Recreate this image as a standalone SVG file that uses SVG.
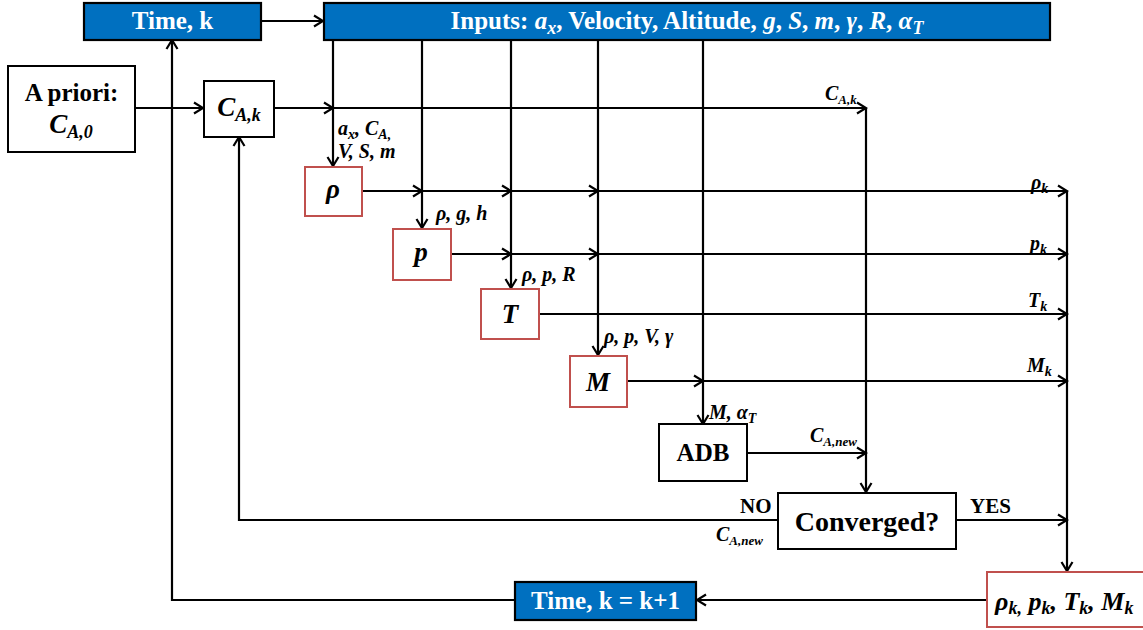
<svg xmlns="http://www.w3.org/2000/svg" width="1143" height="630" viewBox="0 0 1143 630">
<defs>
<marker id="ah" markerUnits="userSpaceOnUse" markerWidth="14" markerHeight="14" viewBox="0 0 14 14" refX="12" refY="7" orient="auto">
<path d="M3,1.5 L12,7 L3,12.5" fill="none" stroke="#000" stroke-width="2.2"/>
</marker>
</defs>
<style>
.blue{fill:#0070C0;stroke:#000;stroke-width:2.2}
.bk{fill:#fff;stroke:#000;stroke-width:2}
.rd{fill:#fff;stroke:#C0504D;stroke-width:2}
text{font-family:"Liberation Serif","Times New Roman","DejaVu Serif",serif;font-weight:bold}
.w{fill:#fff;font-size:25px}
.t{fill:#000;font-size:25px}
.ti{fill:#000;font-style:italic;font-size:27px}
.lb{fill:#000;font-style:italic;font-size:20px}
.lt{fill:#000;font-size:21px}
.c line,.c path{stroke:#000;stroke-width:2.2;fill:none}
.a{marker-end:url(#ah)}
</style>
<g class="c" id="connectors">
<line class="a" x1="261" y1="21" x2="323" y2="21"/>
<line class="a" x1="135" y1="108" x2="203" y2="108"/>
<line class="a" x1="274" y1="108" x2="333" y2="108"/>
<line class="a" x1="333" y1="108" x2="866" y2="108"/>
<line x1="866" y1="108" x2="866" y2="440"/>
<line class="a" x1="866" y1="440" x2="866" y2="492"/>
<line class="a" x1="333" y1="40" x2="333" y2="166"/>
<line class="a" x1="422" y1="40" x2="422" y2="228"/>
<line class="a" x1="511" y1="40" x2="511" y2="288"/>
<line class="a" x1="598" y1="40" x2="598" y2="355"/>
<line class="a" x1="703" y1="40" x2="703" y2="424"/>
<line class="a" x1="362" y1="191" x2="422" y2="191"/>
<line class="a" x1="422" y1="191" x2="511" y2="191"/>
<line class="a" x1="511" y1="191" x2="598" y2="191"/>
<line class="a" x1="598" y1="191" x2="1067" y2="191"/>
<line class="a" x1="451" y1="254" x2="511" y2="254"/>
<line class="a" x1="511" y1="254" x2="598" y2="254"/>
<line class="a" x1="598" y1="254" x2="1067" y2="254"/>
<line class="a" x1="539" y1="314" x2="1067" y2="314"/>
<line class="a" x1="627" y1="381" x2="703" y2="381"/>
<line class="a" x1="703" y1="381" x2="1067" y2="381"/>
<line class="a" x1="747" y1="453" x2="866" y2="453"/>
<line class="a" x1="956" y1="520" x2="1067" y2="520"/>
<line x1="1067" y1="191" x2="1067" y2="520"/>
<line class="a" x1="1067" y1="520" x2="1067" y2="571"/>
<line class="a" x1="987" y1="600" x2="697" y2="600"/>
<path d="M778,520 H239 V300"/>
<line class="a" x1="239" y1="300" x2="239" y2="137"/>
<path d="M515,600 H172 V300"/>
<line class="a" x1="172" y1="300" x2="172" y2="40"/>
</g>
<g id="time">
<rect class="blue" x="84" y="3" width="177" height="37"/>
<text class="w" x="172.5" y="29" text-anchor="middle">Time, k</text>
</g>
<g id="inputs">
<rect class="blue" x="324" y="3" width="726" height="37"/>
<text class="w" x="687" y="29" text-anchor="middle">Inputs: <tspan font-style="italic">a</tspan><tspan font-style="italic" font-size="18" dy="5">x</tspan><tspan dy="-5">, Velocity, Altitude, </tspan><tspan font-style="italic">g</tspan>, <tspan font-style="italic">S</tspan>, <tspan font-style="italic">m</tspan>, <tspan font-style="italic">γ</tspan>, <tspan font-style="italic">R</tspan>, <tspan font-style="italic">α</tspan><tspan font-style="italic" font-size="18" dy="5">T</tspan></text>
</g>
<g id="apriori">
<rect class="bk" x="8" y="66" width="127" height="86"/>
<text class="t" x="71.5" y="101" text-anchor="middle">A priori:</text>
<text class="ti" x="71" y="133" text-anchor="middle">C<tspan font-size="18" dy="5">A,0</tspan></text>
</g>
<g id="cak">
<rect class="bk" x="204" y="81" width="70" height="56"/>
<text class="ti" x="239" y="116" text-anchor="middle">C<tspan font-size="18" dy="5">A,k</tspan></text>
</g>
<g id="rho">
<rect class="rd" x="305" y="167" width="57" height="49"/>
<text class="ti" x="333" y="198" text-anchor="middle">ρ</text>
</g>
<g id="p">
<rect class="rd" x="393" y="229" width="58" height="51"/>
<text class="ti" x="421" y="261" text-anchor="middle">p</text>
</g>
<g id="T">
<rect class="rd" x="481" y="289" width="58" height="50"/>
<text class="ti" x="510" y="323" text-anchor="middle">T</text>
</g>
<g id="M">
<rect class="rd" x="570" y="356" width="57" height="51"/>
<text class="ti" x="598" y="391" text-anchor="middle">M</text>
</g>
<g id="adb">
<rect class="bk" x="659" y="424" width="88" height="57"/>
<text class="t" x="703" y="461" text-anchor="middle">ADB</text>
</g>
<g id="converged">
<rect class="bk" x="778" y="493" width="178" height="56"/>
<text class="t" x="867" y="531" text-anchor="middle" style="font-size:28px">Converged?</text>
</g>
<g id="result">
<rect class="rd" x="987" y="572" width="158" height="55"/>
<text class="ti" x="995" y="610" style="font-size:26px">ρ<tspan font-size="18" dy="4">k,</tspan><tspan dy="-4"> p</tspan><tspan font-size="18" dy="4">k</tspan><tspan dy="-4">, T</tspan><tspan font-size="18" dy="4">k</tspan><tspan dy="-4">, M</tspan><tspan font-size="18" dy="4">k</tspan></text>
</g>
<g id="timenext">
<rect class="blue" x="515" y="582" width="181" height="38"/>
<text class="w" x="605.5" y="609" text-anchor="middle">Time, k = k+1</text>
</g>
<g id="labels">
<text class="lb" x="338" y="135">a<tspan font-size="14" dy="4">x</tspan><tspan dy="-4">, C</tspan><tspan font-size="14" dy="4">A,</tspan></text>
<text class="lb" x="338" y="158">V, S, m</text>
<text class="lb" x="436" y="220">ρ, g, h</text>
<text class="lb" x="522" y="281">ρ, p, R</text>
<text class="lb" x="604" y="343">ρ, p, V, γ</text>
<text class="lb" x="709" y="419">M, α<tspan font-size="14" dy="4">T</tspan></text>
<text class="lb" x="810" y="442">C<tspan font-size="13" dy="4">A,new</tspan></text>
<text class="lb" x="825" y="100">C<tspan font-size="13" dy="4">A,k</tspan></text>
<text class="lb" x="1031" y="189">ρ<tspan font-size="14" dy="4">k</tspan></text>
<text class="lb" x="1030" y="250">p<tspan font-size="14" dy="4">k</tspan></text>
<text class="lb" x="1028" y="307">T<tspan font-size="14" dy="4">k</tspan></text>
<text class="lb" x="1027" y="372">M<tspan font-size="14" dy="4">k</tspan></text>
<text class="lt" x="740" y="513">NO</text>
<text class="lt" x="970" y="513">YES</text>
<text class="lb" x="716" y="541">C<tspan font-size="13" dy="4">A,new</tspan></text>
</g>
</svg>
